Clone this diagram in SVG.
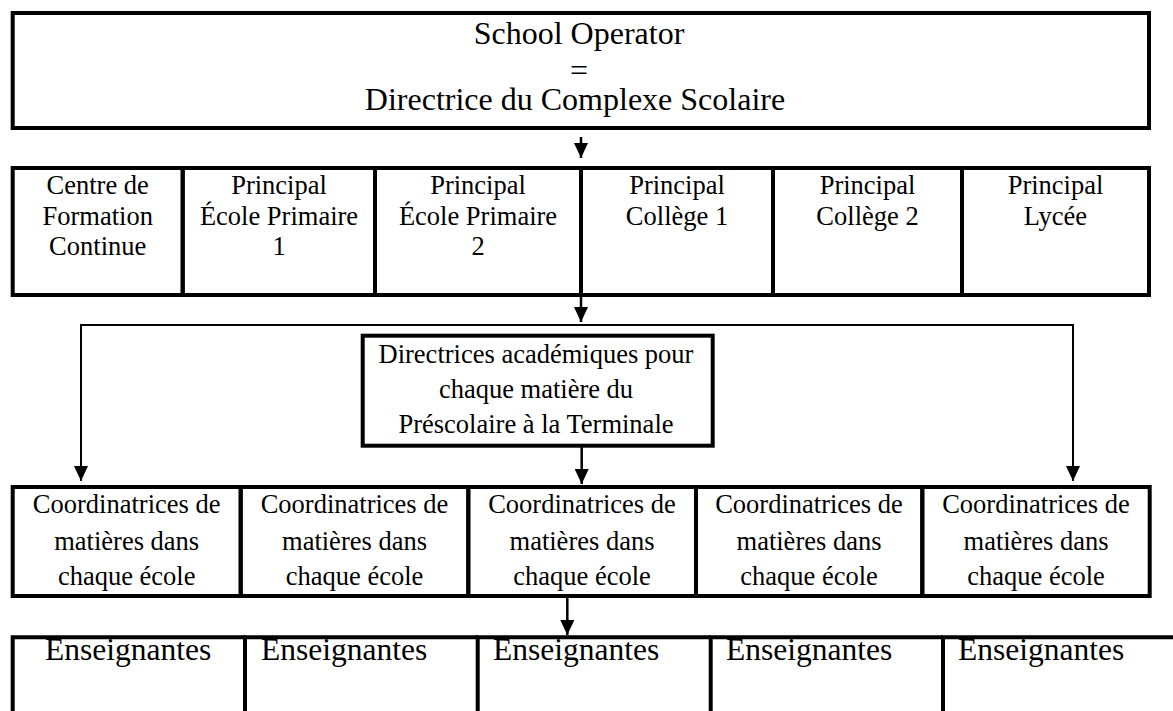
<svg xmlns="http://www.w3.org/2000/svg" width="1173" height="711" viewBox="0 0 1173 711">
<style>
.box{fill:none;stroke:#000;stroke-width:4;}
.t{font-family:'Liberation Serif','DejaVu Serif',serif;fill:#000;text-anchor:middle;}
.big{font-size:32px;}
.mid{font-size:26.5px;}
.ens{font-size:31.5px;text-anchor:start;}
.c{fill:none;stroke:#000;stroke-width:2;}
.c2{fill:none;stroke:#000;stroke-width:2.5;}
</style>
<defs>
<marker id="ah" viewBox="0 0 15 14" refX="15" refY="7" markerWidth="15" markerHeight="14" markerUnits="userSpaceOnUse" orient="auto">
<path d="M0,0 L15,7 L0,14 z" fill="#000"/>
</marker>
</defs>
<rect width="1173" height="711" fill="#fff"/>

<g font-family="Liberation Serif, DejaVu Serif, serif">
<g id="operator">
<rect class="box" x="12.7" y="13" width="1136.3" height="115"/>
<text class="t big" x="579" y="43.5">School Operator</text>
<text class="t big" x="579" y="81">=</text>
<text class="t big" x="575" y="110">Directrice du Complexe Scolaire</text>
</g>

<g id="centre">
<rect class="box" x="12.7" y="168" width="170" height="127"/>
<text class="t mid" x="97.7" y="194">Centre de</text>
<text class="t mid" x="97.7" y="224.5">Formation</text>
<text class="t mid" x="97.7" y="255">Continue</text>
</g>
<g id="primaire1">
<rect class="box" x="182.7" y="168" width="192.3" height="127"/>
<text class="t mid" x="279" y="194">Principal</text>
<text class="t mid" x="279" y="224.5">École Primaire</text>
<text class="t mid" x="279" y="255">1</text>
</g>
<g id="primaire2">
<rect class="box" x="375" y="168" width="206" height="127"/>
<text class="t mid" x="478" y="194">Principal</text>
<text class="t mid" x="478" y="224.5">École Primaire</text>
<text class="t mid" x="478" y="255">2</text>
</g>
<g id="college1">
<rect class="box" x="581" y="168" width="192" height="127"/>
<text class="t mid" x="677" y="194">Principal</text>
<text class="t mid" x="677" y="224.5">Collège 1</text>
</g>
<g id="college2">
<rect class="box" x="773" y="168" width="189" height="127"/>
<text class="t mid" x="867.5" y="194">Principal</text>
<text class="t mid" x="867.5" y="224.5">Collège 2</text>
</g>
<g id="lycee">
<rect class="box" x="962" y="168" width="187" height="127"/>
<text class="t mid" x="1055.5" y="194">Principal</text>
<text class="t mid" x="1055.5" y="224.5">Lycée</text>
</g>

<g id="directrices">
<rect class="box" x="362.7" y="335.7" width="350" height="110"/>
<text class="t mid" x="536" y="363.3">Directrices académiques pour</text>
<text class="t mid" x="536" y="398.3">chaque matière du</text>
<text class="t mid" x="536" y="433.3">Préscolaire à la Terminale</text>
</g>

<g id="coord1">
<rect class="box" x="12.7" y="487" width="228" height="109"/>
<text class="t mid" x="126.7" y="513">Coordinatrices de</text>
<text class="t mid" x="126.7" y="549.5">matières dans</text>
<text class="t mid" x="126.7" y="585">chaque école</text>
</g>
<g id="coord2">
<rect class="box" x="240.7" y="487" width="227.6" height="109"/>
<text class="t mid" x="354.5" y="513">Coordinatrices de</text>
<text class="t mid" x="354.5" y="549.5">matières dans</text>
<text class="t mid" x="354.5" y="585">chaque école</text>
</g>
<g id="coord3">
<rect class="box" x="468.3" y="487" width="227.7" height="109"/>
<text class="t mid" x="582" y="513">Coordinatrices de</text>
<text class="t mid" x="582" y="549.5">matières dans</text>
<text class="t mid" x="582" y="585">chaque école</text>
</g>
<g id="coord4">
<rect class="box" x="696" y="487" width="226.3" height="109"/>
<text class="t mid" x="809" y="513">Coordinatrices de</text>
<text class="t mid" x="809" y="549.5">matières dans</text>
<text class="t mid" x="809" y="585">chaque école</text>
</g>
<g id="coord5">
<rect class="box" x="922.3" y="487" width="227.4" height="109"/>
<text class="t mid" x="1036" y="513">Coordinatrices de</text>
<text class="t mid" x="1036" y="549.5">matières dans</text>
<text class="t mid" x="1036" y="585">chaque école</text>
</g>

<g id="ens1">
<path class="box" d="M12.7,713 V637.3 H245"/>
<text class="t ens" x="45" y="660">Enseignantes</text>
</g>
<g id="ens2">
<path class="box" d="M245,713 V637.3 H477.7"/>
<text class="t ens" x="261" y="660">Enseignantes</text>
</g>
<g id="ens3">
<path class="box" d="M477.7,713 V637.3 H710.7"/>
<text class="t ens" x="493" y="660">Enseignantes</text>
</g>
<g id="ens4">
<path class="box" d="M710.7,713 V637.3 H943"/>
<text class="t ens" x="726" y="660">Enseignantes</text>
</g>
<g id="ens5">
<path class="box" d="M943,713 V637.3 H1175"/>
<text class="t ens" x="958" y="660">Enseignantes</text>
</g>
</g>

<g id="connectors">
<path class="c2" d="M581,137 V158" marker-end="url(#ah)"/>
<path class="c2" d="M581,295 V322" marker-end="url(#ah)"/>
<path class="c" d="M581,325 H81 V481" marker-end="url(#ah)"/>
<path class="c" d="M581,325 H1073 V481" marker-end="url(#ah)"/>
<path class="c2" d="M581.7,447 V484" marker-end="url(#ah)"/>
<path class="c2" d="M567.3,598 V635" marker-end="url(#ah)"/>
</g>
</svg>
